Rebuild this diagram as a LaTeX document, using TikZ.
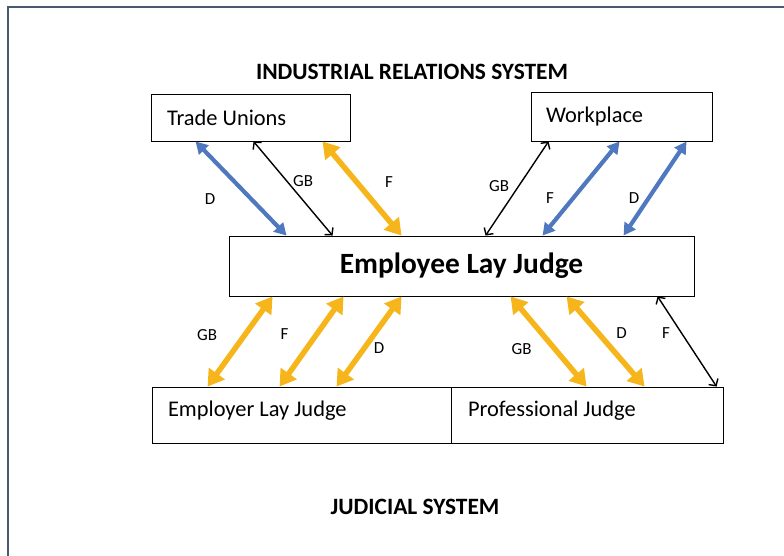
\documentclass[tikz,border=0pt]{standalone}
\usepackage{fontspec}
\setmainfont{Carlito}
\usepackage{tikz}
\usetikzlibrary{arrows.meta}

\definecolor{relblue}{HTML}{4F78BE}
\definecolor{relgold}{HTML}{F6B51A}
\definecolor{framegray}{HTML}{4A5870}

\begin{document}
\begin{tikzpicture}[x=1bp,y=-1bp,
  party/.style={draw,line width=0.9bp,inner xsep=16bp,align=left,font=\fontsize{22.5}{24}\selectfont,
    execute at begin node=\spaceskip0pt\relax},
  hdr/.style={font=\bfseries\fontsize{23.5}{26}\selectfont},
  lbl/.style={text=black,font=\fontsize{17}{19}\selectfont,inner sep=1bp},
  gold/.style={relgold,line width=5.5bp,{Triangle[width=19bp,length=16bp]}-{Triangle[width=19bp,length=16bp]}},
  blue/.style={relblue,line width=4.2bp,{Triangle[width=13bp,length=12bp]}-{Triangle[width=13bp,length=12bp]}},
  thin/.style={black,line width=1.4bp,{Straight Barb[length=5bp,width=11bp]}-{Straight Barb[length=5bp,width=11bp]}}]
\useasboundingbox (0,0) rectangle (784,556);
% frame
\draw[framegray,line width=2bp] (7.5,556) -- (7.5,7.5) -- (784,7.5);
% headings
\node[hdr] (irs) at (412,72) {INDUSTRIAL RELATIONS SYSTEM};
\node[hdr] (js) at (415,507) {JUDICIAL SYSTEM};
% parties
\node[party,minimum width=199bp,minimum height=47bp,text width=167bp] (tu) at (250.5,117.5) {Trade Unions};
\node[party,minimum width=181bp,minimum height=49bp,text width=151bp,inner xsep=15bp] (wp) at (621.5,116.5) {Workplace};
\node[draw,line width=0.9bp,minimum width=465bp,minimum height=60bp,font=\bfseries\fontsize{29.5}{32}\selectfont] (ely) at (461.5,266) {Employee Lay Judge};
\node[party,minimum width=299bp,minimum height=56bp,text width=267bp,text depth=12bp] (elj) at (301.5,415) {Employer Lay Judge};
\node[party,minimum width=272bp,minimum height=56bp,text width=238bp,inner xsep=17bp,text depth=12bp] (pj) at (587,415) {Professional Judge};
% industrial relations links
\path ([xshift=45bp]tu.south west) edge[blue] node[lbl,xshift=-31bp,yshift=-11bp]{D} ([xshift=58bp]ely.north west)
  ([xshift=103bp]tu.south west) edge[thin] node[lbl,xshift=10bp,yshift=7bp]{GB} ([xshift=104bp]ely.north west)
  ([xshift=172bp]tu.south west) edge[gold] node[lbl,xshift=27bp,yshift=6bp]{F} ([xshift=173bp]ely.north west)
  ([xshift=18bp]wp.south west) edge[thin] node[lbl,xshift=-18bp,yshift=2bp]{GB} ([xshift=257bp]ely.north west)
  ([xshift=89bp]wp.south west) edge[blue] node[lbl,xshift=-31bp,yshift=-10bp]{F} ([xshift=314bp]ely.north west)
  ([xshift=156bp]wp.south west) edge[blue] node[lbl,xshift=-21bp,yshift=-10bp]{D} ([xshift=395bp]ely.north west);
% judicial links
\path ([xshift=44bp]ely.south west) edge[gold] node[lbl,xshift=-33bp,yshift=6bp]{GB} ([xshift=56bp]elj.north west)
  ([xshift=115bp]ely.south west) edge[gold] node[lbl,xshift=-27bp,yshift=7bp]{F} ([xshift=128bp]elj.north west)
  ([xshift=173bp]ely.south west) edge[gold] node[lbl,xshift=10bp,yshift=-7bp]{D} ([xshift=185bp]elj.north west)
  ([xshift=282bp]ely.south west) edge[gold] node[lbl,xshift=-27bp,yshift=-8bp]{GB} ([xshift=136bp]pj.north west)
  ([xshift=338bp]ely.south west) edge[gold] node[lbl,xshift=16bp,yshift=8bp]{D} ([xshift=194bp]pj.north west)
  ([xshift=429bp]ely.south west) edge[thin] node[lbl,xshift=-21bp,yshift=8bp]{F} ([xshift=266bp]pj.north west);
\end{tikzpicture}
\end{document}
